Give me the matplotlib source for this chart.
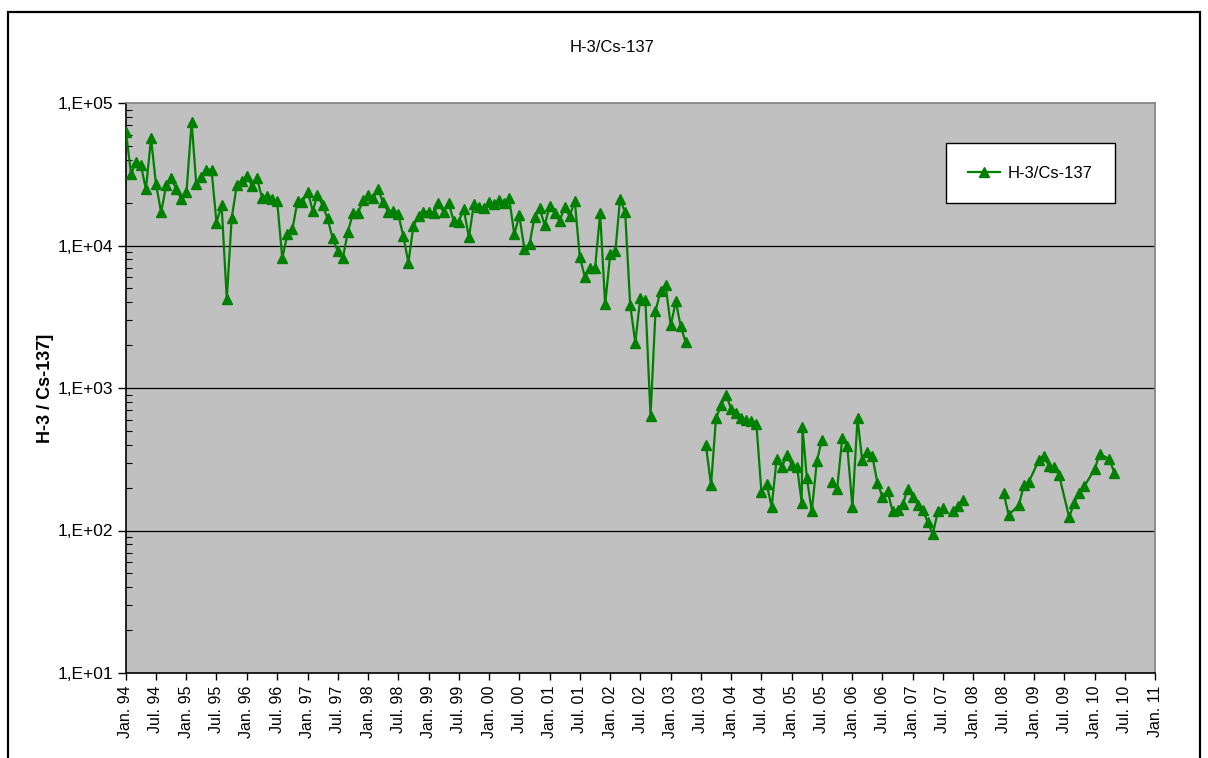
import numpy as np
import pandas as pd
import matplotlib
matplotlib.use("Agg")
import matplotlib.pyplot as plt
import matplotlib.dates as mdates
from matplotlib.ticker import FixedLocator, FuncFormatter, NullFormatter
from matplotlib.patches import Rectangle

plt.rcParams['font.family'] = ['Liberation Sans', 'DejaVu Sans']

nan = float('nan')

# Sampling dates (first of month unless stated); a NaN value breaks the line
sample_dates = (
    [f"1994-{m:02d}" for m in range(1, 13)]
    + [f"1995-{m:02d}" for m in range(1, 13)]
    + [f"1996-{m:02d}" for m in range(1, 13)]
    + [f"1997-{m:02d}" for m in range(1, 13)]
    + [f"1998-{m:02d}" for m in range(1, 13)]
    + [f"1999-{m:02d}" for m in range(1, 13)]
    + [f"2000-{m:02d}" for m in range(1, 13)]
    + [f"2001-{m:02d}" for m in range(1, 13)]
    + [f"2002-{m:02d}" for m in range(1, 13)]
    + ["2003-01", "2003-02", "2003-03", "2003-04", "2003-05",
       "2003-08", "2003-09", "2003-10", "2003-11", "2003-12"]
    + [f"2004-{m:02d}" for m in range(1, 13)]
    + ["2005-01", "2005-02", "2005-03", "2005-03-06", "2005-04", "2005-05",
       "2005-06", "2005-07", "2005-08", "2005-09", "2005-10", "2005-11",
       "2005-12"]
    + [f"2006-{m:02d}" for m in range(1, 13)]
    + [f"2007-{m:02d}" for m in range(1, 13)]
    + ["2008-07", "2008-08", "2008-10", "2008-11", "2008-12"]
    + ["2009-02", "2009-03", "2009-04", "2009-05", "2009-06",
       "2009-08", "2009-09", "2009-10", "2009-11"]
    + ["2010-01", "2010-02", "2010-04", "2010-05"]
)

# H-3 / Cs-137 activity ratio
ratio = (
    [62200, 31600, 38700, 36700, 24800, 56500, 26900, 17100, 26600, 29600, 24800, 21200]
    + [23600, 74000, 26900, 30100, 34000, 34000, 14500, 19200, 4220, 15700, 26600, 28400]
    + [30900, 26200, 29600, 21600, 22400, 21100, 20500, 8130, 12000, 13000, 20500, 20200]
    + [23900, 17500, 22600, 19200, 15500, 11200, 9140, 8130, 12500, 16800, 16800, 20800]
    + [22600, 21400, 24800, 20100, 17300, 17500, 16600, 11700, 7570, 13700, 16100, 17100]
    + [17300, 16800, 19800, 17200, 20000, 14900, 14700, 18000, 11400, 19600, 18700, 18200]
    + [20300, 19500, 20800, 19800, 21400, 12000, 16300, 9440, 10200, 15900, 18200, 13900]
    + [18900, 16800, 14900, 18500, 16100, 20600, 8340, 5990, 6990, 6900, 16800, 3860]
    + [8700, 9200, 21100, 17100, 3850, 2080, 4260, 4150, 635, 3460, 4830, 5240]
    + [2750, 4060, 2740, 2100, nan, 398, 208, 612, 760, 893]
    + [709, 664, 612, 596, 586, 558, 187, 212, 147, 316, 278, 337]
    + [289, 281, 157, 530, 235, 136, 309, 432, nan, 220, 195, 448, 392]
    + [146, 612, 312, 357, 333, 217, 173, 189, 136, 139, 153, 195]
    + [173, 151, 140, 114, 94.5, 136, 143, nan, 138, 148, 164, nan]
    + [184, 129, 150, 208, 220]
    + [314, 335, 284, 281, 245, 124, 157, 184, 205]
    + [268, 344, 317, 253]
)

series_name = "H-3/Cs-137"
y_label = "H-3 / Cs-137]"
month_names = {1: "Jan.", 7: "Jul."}

dates = pd.to_datetime(sample_dates, format="ISO8601")

W, H = 1208, 758
fig = plt.figure(figsize=(W / 100, H / 100), dpi=100)
fig.patch.set_facecolor("white")

# Outer chart frame (runs off the bottom edge)
fig.patches.append(Rectangle((8 / W, -0.05), (1200 - 8) / W, 1.05 - 12 / H,
                             transform=fig.transFigure, fill=False,
                             edgecolor="black", linewidth=1.6, zorder=0))

left, right, top, bottom = 126, 1155, 103, 673
ax = fig.add_axes([left / W, 1 - bottom / H, (right - left) / W, (bottom - top) / H])
ax.set_facecolor("#C0C0C0")

ax.plot(dates, ratio, color="#008000", linewidth=1.6, marker="^",
        markersize=7.5, markerfacecolor="#008000", markeredgecolor="#008000",
        label=series_name, zorder=3)

ax.set_yscale("log")
ax.set_ylim(10, 1e5)
ax.set_xlim(pd.Timestamp("1994-01-01"), pd.Timestamp("2011-01-01"))

# Horizontal gridlines at each decade
for v in [1e2, 1e3, 1e4]:
    ax.axhline(v, color="black", linewidth=0.9, zorder=1)

ax.yaxis.set_major_locator(FixedLocator([10, 100, 1000, 1e4, 1e5]))
ax.yaxis.set_major_formatter(FuncFormatter(lambda v, p: f"1,E+{int(round(np.log10(v))):02d}"))
minor = [m * 10 ** e for e in range(1, 5) for m in range(2, 10)]
ax.yaxis.set_minor_locator(FixedLocator(minor))
ax.yaxis.set_minor_formatter(NullFormatter())
ax.tick_params(axis="y", which="major", direction="out", length=6, width=1,
               labelsize=12.5, pad=3)
ax.tick_params(axis="y", which="minor", direction="in", length=4, width=0.8)

tick_dates = pd.date_range("1994-01-01", "2011-01-01", freq="6MS")
ax.xaxis.set_major_locator(FixedLocator(mdates.date2num(tick_dates)))
ax.xaxis.set_major_formatter(FuncFormatter(
    lambda v, p: f"{month_names[mdates.num2date(v).month]} {mdates.num2date(v).year % 100:02d}"))
ax.xaxis.set_minor_formatter(NullFormatter())
ax.tick_params(axis="x", which="major", direction="out", length=5, width=1,
               labelsize=11.5, labelrotation=90, pad=4)
ax.tick_params(axis="x", which="minor", length=0)

for side in ["left", "bottom"]:
    ax.spines[side].set_color("black")
    ax.spines[side].set_linewidth(1.2)
for side in ["top", "right"]:
    ax.spines[side].set_color("#808080")
    ax.spines[side].set_linewidth(1.2)

fig.text(612 / W, 1 - 47 / H, series_name, ha="center", va="center", fontsize=12)
fig.text(45 / W, 1 - (top + bottom) / 2 / H, y_label, ha="center", va="center",
         rotation=90, fontsize=13, fontweight="bold")

leg = ax.legend(loc="upper left", bbox_to_anchor=(946 / W, 1 - 143 / H),
                bbox_transform=fig.transFigure, fontsize=12, frameon=True,
                fancybox=False, shadow=False, borderpad=1.35, handlelength=1.9,
                handletextpad=0.45, borderaxespad=0, numpoints=1)
leg.get_frame().set_edgecolor("black")
leg.get_frame().set_linewidth(1.0)
leg.get_frame().set_facecolor("white")
leg.get_frame().set_alpha(1)

fig.savefig("out.png", dpi=100)
